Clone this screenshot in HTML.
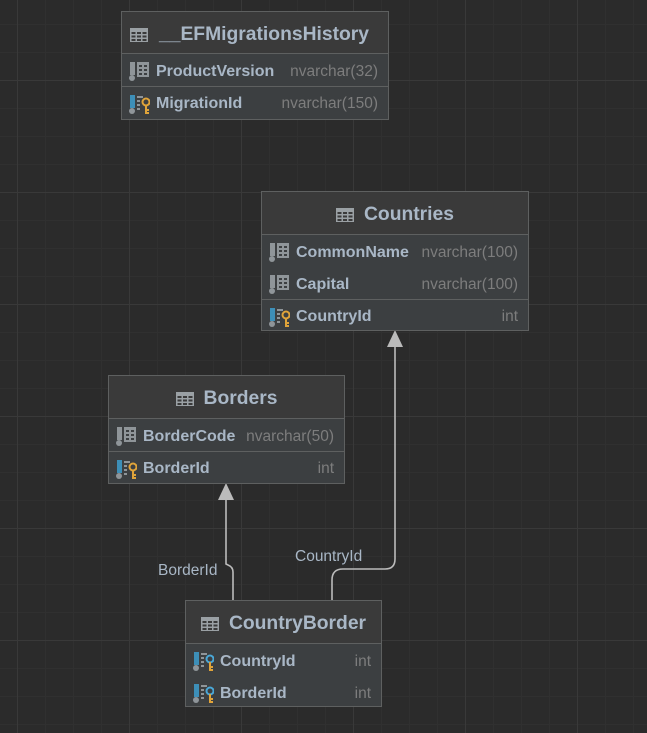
<!DOCTYPE html>
<html><head><meta charset="utf-8"><style>
html,body{margin:0;padding:0}
body{width:647px;height:733px;overflow:hidden;position:relative;background-color:#2b2b2b;
background-image:
linear-gradient(to right,#393939 0,#393939 1px,transparent 1px),
linear-gradient(to bottom,#393939 0,#393939 1px,transparent 1px),
linear-gradient(to right,#303030 0,#303030 1px,transparent 1px),
linear-gradient(to bottom,#303030 0,#303030 1px,transparent 1px);
background-size:112px 112px,112px 112px,28px 28px,28px 28px;
background-position:17px 0,0 80px,17px 0,0 24px;
font-family:"Liberation Sans","DejaVu Sans",sans-serif}
.t{position:absolute;border:1px solid #5e6060;background:#3c3f41;box-sizing:border-box}
.h{background:#3a3a3a;border-bottom:1px solid #5e6060;box-sizing:border-box;color:#a9b7c6;font-weight:bold;font-size:19.3px;display:flex;align-items:center;justify-content:center;gap:10px;padding-top:4px}
.r{height:32px;display:flex;align-items:center;padding:3px 10px 0 6px;box-sizing:border-box;font-size:15.5px}
.r.sep{border-top:1px solid #5e6060}
.n{color:#a9b7c6;font-weight:bold;font-size:16px;margin-left:6px;flex:1}
.ty{color:#7d7d7d}
svg.i{flex:none}
.lbl{position:absolute;color:#a9b7c6;font-size:15.5px}
</style></head><body>
<svg width="0" height="0" style="position:absolute"><defs>
<g id="tab"><rect x="0" y="0" width="18" height="14" fill="#9aa0a4"/><g fill="#3a3a3a"><rect x="1.5" y="4" width="4" height="2"/><rect x="7" y="4" width="4" height="2"/><rect x="12.5" y="4" width="4" height="2"/><rect x="1.5" y="7.5" width="4" height="2"/><rect x="7" y="7.5" width="4" height="2"/><rect x="12.5" y="7.5" width="4" height="2"/><rect x="1.5" y="11" width="4" height="2"/><rect x="7" y="11" width="4" height="2"/><rect x="12.5" y="11" width="4" height="2"/></g></g>
<g id="col"><rect x="2" y="1" width="5" height="13" fill="#8f9599"/><circle cx="4" cy="17" r="3" fill="#8f9599"/><rect x="9" y="1" width="12" height="15" fill="#8f9599"/><g fill="#3c3f41"><rect x="11" y="4" width="3" height="2"/><rect x="16" y="4" width="3" height="2"/><rect x="11" y="8" width="3" height="2"/><rect x="16" y="8" width="3" height="2"/><rect x="11" y="12" width="3" height="2"/><rect x="16" y="12" width="3" height="2"/></g></g>
<g id="key"><rect x="2" y="1" width="5" height="13" fill="#3d8fb8"/><circle cx="4" cy="17" r="3" fill="#8f9599"/><g fill="#8f9599"><rect x="9" y="2" width="6" height="2"/><rect x="9" y="6" width="3" height="2"/><rect x="9" y="10" width="3" height="2"/><rect x="9" y="14" width="3" height="2"/></g><circle cx="18" cy="8" r="3.5" fill="none" stroke="#e0a43a" stroke-width="2"/><rect x="17" y="11" width="2" height="9" fill="#e0a43a"/><rect x="19" y="15" width="2" height="2" fill="#e0a43a"/><rect x="19" y="18" width="2" height="2" fill="#e0a43a"/></g>
<g id="fkey"><rect x="2" y="1" width="5" height="13" fill="#3d8fb8"/><circle cx="4" cy="17" r="3" fill="#8f9599"/><g fill="#8f9599"><rect x="9" y="2" width="6" height="2"/><rect x="9" y="6" width="3" height="2"/><rect x="9" y="10" width="3" height="2"/><rect x="9" y="14" width="3" height="2"/></g><circle cx="18" cy="8" r="3.5" fill="none" stroke="#4aa8d8" stroke-width="2"/><rect x="17" y="11" width="2" height="9" fill="#e0a43a"/><rect x="19" y="15" width="2" height="2" fill="#e0a43a"/><rect x="19" y="18" width="2" height="2" fill="#e0a43a"/></g>
</defs></svg>

<svg style="position:absolute;left:0;top:0" width="647" height="733">
<g fill="none" stroke="#bbbbbb" stroke-width="1.6">
<path d="M233 600 L233 572 Q233 567 228 565 L226 564 L226 498"/>
<path d="M332 600 L332 580 Q332 569 343 569 L385 569 Q395 569 395 559 L395 345"/>
</g>
<polygon points="226,483 218,500 234,500" fill="#bbbbbb"/>
<polygon points="395,330 387,347 403,347" fill="#bbbbbb"/>
</svg>
<div class="lbl" style="left:158px;top:562px">BorderId</div>
<div class="lbl" style="left:295px;top:548px">CountryId</div>

<div class="t" style="left:121px;top:11px;width:268px;height:109px">
<div class="h" style="height:42px;justify-content:flex-start;padding-left:8px;gap:0"><svg class="i" width="18" height="14"><use href="#tab"/></svg><span style="margin-left:11px">__EFMigrationsHistory</span></div>
<div class="r"><svg class="i" width="22" height="21"><use href="#col"/></svg><span class="n">ProductVersion</span><span class="ty">nvarchar(32)</span></div>
<div class="r sep"><svg class="i" width="22" height="21"><use href="#key"/></svg><span class="n">MigrationId</span><span class="ty">nvarchar(150)</span></div>
</div>

<div class="t" style="left:261px;top:191px;width:268px;height:140px">
<div class="h" style="height:43px"><svg class="i" width="18" height="14"><use href="#tab"/></svg><span>Countries</span></div>
<div class="r"><svg class="i" width="22" height="21"><use href="#col"/></svg><span class="n">CommonName</span><span class="ty">nvarchar(100)</span></div>
<div class="r"><svg class="i" width="22" height="21"><use href="#col"/></svg><span class="n">Capital</span><span class="ty">nvarchar(100)</span></div>
<div class="r sep"><svg class="i" width="22" height="21"><use href="#key"/></svg><span class="n">CountryId</span><span class="ty">int</span></div>
</div>

<div class="t" style="left:108px;top:375px;width:237px;height:109px">
<div class="h" style="height:43px"><svg class="i" width="18" height="14"><use href="#tab"/></svg><span>Borders</span></div>
<div class="r"><svg class="i" width="22" height="21"><use href="#col"/></svg><span class="n">BorderCode</span><span class="ty">nvarchar(50)</span></div>
<div class="r sep"><svg class="i" width="22" height="21"><use href="#key"/></svg><span class="n">BorderId</span><span class="ty">int</span></div>
</div>

<div class="t" style="left:185px;top:600px;width:197px;height:107px">
<div class="h" style="height:43px"><svg class="i" width="18" height="14"><use href="#tab"/></svg><span>CountryBorder</span></div>
<div class="r"><svg class="i" width="22" height="21"><use href="#fkey"/></svg><span class="n">CountryId</span><span class="ty">int</span></div>
<div class="r"><svg class="i" width="22" height="21"><use href="#fkey"/></svg><span class="n">BorderId</span><span class="ty">int</span></div>
</div>
</body></html>
